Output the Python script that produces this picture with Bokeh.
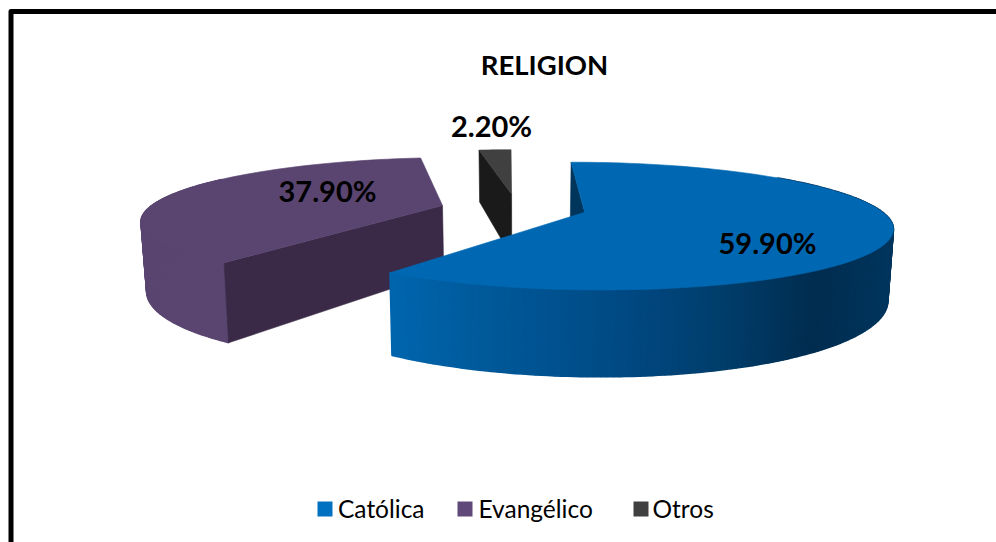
import numpy as np
from bokeh.core.properties import value
from bokeh.embed import file_html
from bokeh.models import Range1d
from bokeh.plotting import figure
from bokeh.resources import INLINE

title = "RELIGION"
categories = ["Católica", "Evangélico", "Otros"]
values = [59.9, 37.9, 2.2]

top_colors = ["#0068B2", "#5A4571", "#404040"]
wall_colors = ["#00355C", "#3A2A47", "#1A1A1A"]
swatch_colors = ["#0070C0", "#60497A", "#404040"]

# layout of the exploded perspective pie (pixels and plane units)
W, H = 996, 542
GX, GY, A, B, K = 520.0, 205.0, 291.0, 58.0, 0.21
START = -0.5
EXPLODE = [(0.215, -0.115), (-0.268, 0.0), (-0.032, 0.205)]
LABEL_XY = [(767, 242), (327, 190), (491, 125)]
LEGEND_BOX_X = [317, 457, 633]
LEGEND_TEXT_X = [337.5, 478, 652]


def project(u, v):
    w = 1 + K * v
    return GX + A * u / w, GY - B * v / w


def drop(x, y):
    d = 54.5 + (y - 160) * 0.25
    return 520 + (x - 520) * 0.985, y + d


def rim(i, a0, a1, n=2.0):
    t = np.radians(np.linspace(a0, a1, max(2, int(abs(a1 - a0) / n) + 1)))
    return project(EXPLODE[i][0] + np.sin(t), EXPLODE[i][1] + np.cos(t))


def lerp_blue(x):
    stops_x = [389, 480, 620, 720, 815, 893]
    g = np.interp(x, stops_x, [102, 90, 74, 62, 45, 54])
    b = np.interp(x, stops_x, [174, 155, 132, 108, 80, 94])
    return "#00%02X%02X" % (int(g), int(b))


p = figure(width=W, height=H, x_range=Range1d(0, W), y_range=Range1d(H, 0),
           toolbar_location=None, output_backend="svg", min_border=0)
p.xaxis.visible = False
p.yaxis.visible = False
p.xgrid.visible = False
p.ygrid.visible = False
p.outline_line_color = None

# outer frame, cut by the picture's right and bottom edges
p.line([10.5, 10.5, W], [H, 11, 11], line_color="black", line_width=5, line_join="round")

shares = np.array(values) / sum(values) * 360
bounds = START + np.concatenate([[0], np.cumsum(shares)])
apex = [project(*EXPLODE[i]) for i in range(3)]


def poly(xs, ys, color, lw=0.6):
    p.patch(list(xs), list(ys), fill_color=color, line_color=color, line_width=lw)


# purple
i = 1
a0, a1 = bounds[1], bounds[2]
xs, ys = rim(i, a0, 300, 1.0)
bx, by = drop(xs, ys)
for k in range(len(xs) - 1):
    poly([xs[k], xs[k + 1], bx[k + 1], bx[k]], [ys[k], ys[k + 1], by[k + 1], by[k]], "#5A4571", 1.2)
x0, y0 = rim(i, a0, a0 + 1)
ax, ay = apex[i]
d1 = drop(x0[0], y0[0])
d2 = drop(ax, ay)
poly([x0[0], ax, d2[0], d1[0]], [y0[0], ay, d2[1], d1[1]], wall_colors[i])
xs, ys = rim(i, a0, a1)
poly(np.r_[ax, xs], np.r_[ay, ys], top_colors[i])

# grey
i = 2
a0, a1 = bounds[2], bounds[3]
xs, ys = rim(i, a0, a1, 1.0)
ax, ay = apex[i]
d1 = drop(xs[0], ys[0])
d2 = drop(ax, ay)
poly([xs[0], ax, d2[0], d1[0]], [ys[0], ay, d2[1], d1[1]], wall_colors[i])
poly(np.r_[ax, xs], np.r_[ay, ys], top_colors[i])

# blue
i = 0
a0, a1 = bounds[0], bounds[1]
xs, ys = rim(i, a0, a0 + 1)
ax, ay = apex[i]
d1 = drop(xs[0], ys[0])
d2 = drop(ax, ay)
poly([xs[0], ax, d2[0], d1[0]], [ys[0], ay, d2[1], d1[1]], wall_colors[i])
xs, ys = rim(i, 50, a1, 1.0)
bx, by = drop(xs, ys)
for k in range(len(xs) - 1):
    poly([xs[k], xs[k + 1], bx[k + 1], bx[k]], [ys[k], ys[k + 1], by[k + 1], by[k]],
         lerp_blue((xs[k] + xs[k + 1]) / 2), 1.6)
xs, ys = rim(i, a0, a1)
poly(np.r_[ax, xs], np.r_[ay, ys], top_colors[i])

# value labels
for val, (lx, ly) in zip(values, LABEL_XY):
    p.text([lx], [ly], text=[f"{val:.2f}%"], text_font=value("Lato"), text_font_style="bold",
           text_font_size="29px", text_color="black", text_align="center", text_baseline="middle")

p.text([544], [64], text=[title], text_font=value("Lato"), text_font_style="bold",
       text_font_size="27.5px", text_color="black", text_align="center", text_baseline="middle")

# legend
for name, col, bxx, tx in zip(categories, swatch_colors, LEGEND_BOX_X, LEGEND_TEXT_X):
    p.quad(left=[bxx], right=[bxx + 15], top=[501], bottom=[516], fill_color=col, line_color=None)
    p.text([tx], [508], text=[name], text_font=value("Lato"), text_font_size="24.5px",
           text_color="black", text_align="left", text_baseline="middle")

open("out.html", "w").write(file_html(p, INLINE))
